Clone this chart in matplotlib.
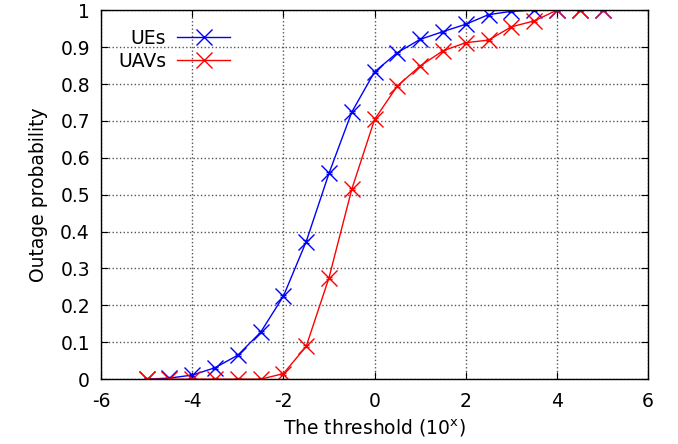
import matplotlib.pyplot as plt
import numpy as np
from matplotlib.lines import Line2D

# threshold exponents
x_vals = [-5, -4.5, -4, -3.5, -3, -2.5, -2, -1.5, -1, -0.5, 0, 0.5,
          1, 1.5, 2, 2.5, 3, 3.5, 4, 4.5, 5]

ue_prob = [0.0, 0.003, 0.011, 0.031, 0.065, 0.127, 0.225, 0.373, 0.558, 0.724,
           0.833, 0.885, 0.921, 0.942, 0.962, 0.988, 0.997, 1.0, 1.0, 1.0, 1.0]
uav_prob = [0.0, 0.0, 0.0, 0.0, 0.0, 0.0, 0.015, 0.089, 0.275, 0.515,
            0.704, 0.795, 0.849, 0.890, 0.912, 0.919, 0.955, 0.971, 1.0, 1.0, 1.0]

x_ticks = [-6, -4, -2, 0, 2, 4, 6]
y_ticks = [0, 0.1, 0.2, 0.3, 0.4, 0.5, 0.6, 0.7, 0.8, 0.9, 1]
y_labels = ['0', '0.1', '0.2', '0.3', '0.4', '0.5', '0.6', '0.7', '0.8', '0.9', '1']

plt.rcParams['font.family'] = 'DejaVu Sans'
plt.rcParams['axes.unicode_minus'] = False

fig = plt.figure(figsize=(6.78, 4.44), dpi=100)
ax = fig.add_axes([0.149, 0.146, 0.807, 0.831])

err = np.full(len(x_vals), 0.003)
ax.errorbar(x_vals, ue_prob, yerr=err, color='#0000ff', lw=1, marker='x',
            markersize=11, mew=1, capsize=2)
ax.errorbar(x_vals, uav_prob, yerr=err, color='#ff0000', lw=1, marker='x',
            markersize=11, mew=1, capsize=2)

ax.set_xlim(-6, 6)
ax.set_ylim(0, 1)
ax.set_xticks(x_ticks)
ax.set_xticklabels([str(t) for t in x_ticks])
ax.set_yticks(y_ticks)
ax.set_yticklabels(y_labels)
ax.tick_params(direction='in', top=True, right=True, labelsize=13.5, length=5)
ax.tick_params(axis='x', pad=9)
ax.tick_params(axis='y', pad=8)
ax.grid(True, linestyle=':', color='#555555', lw=1)
for s in ax.spines.values():
    s.set_linewidth(1)

ax.set_xlabel('The threshold (10$^{\\mathregular{x}}$)', fontsize=13.5, labelpad=5)
ax.set_ylabel('Outage probability', fontsize=13.5, labelpad=9)

handles = [Line2D([], [], color='#0000ff', lw=1, marker='x', markersize=11),
           Line2D([], [], color='#ff0000', lw=1, marker='x', markersize=11)]
leg = ax.legend(handles, ['UEs', 'UAVs'], loc='upper left',
                bbox_to_anchor=(0.0, 0.995), frameon=False,
                markerfirst=False, fontsize=13.5, handlelength=2.8,
                handletextpad=0.6, labelspacing=0.2)

fig.savefig('out.png', dpi=100)
